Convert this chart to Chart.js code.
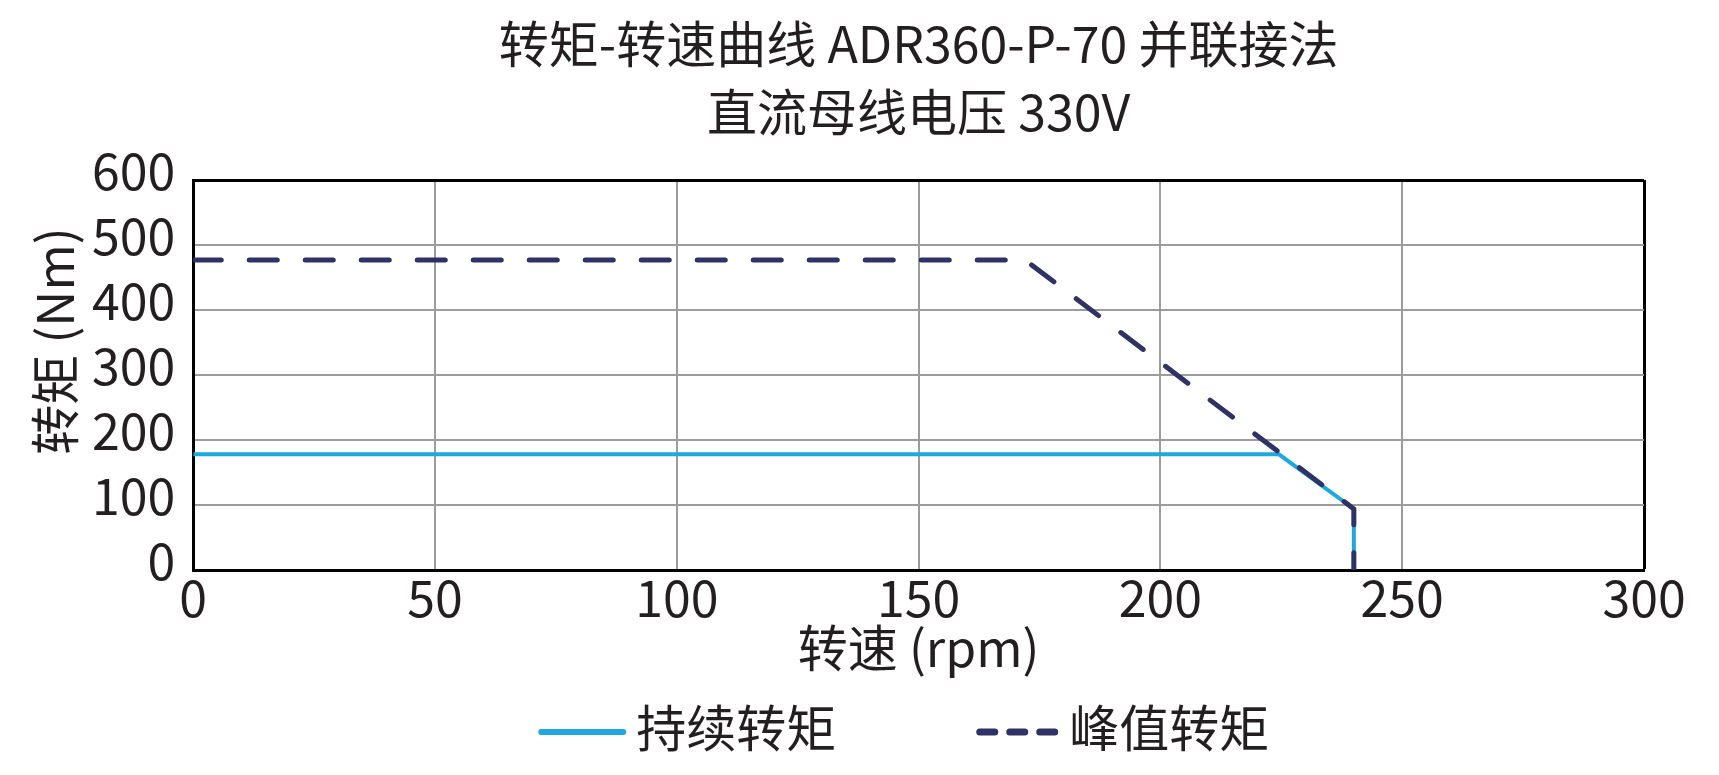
<!DOCTYPE html>
<html>
<head>
<meta charset="utf-8">
<script src="https://cdn.jsdelivr.net/npm/chart.js@4"></script>
<style>
  html, body { margin: 0; background: #fff; }
  #wrap { width: 1719px; height: 775px; }
</style>
</head>
<body>
<div id="wrap"><canvas id="torque"></canvas></div>
<script>
const FONT = "'Noto Sans CJK SC', 'Noto Sans', sans-serif";
Chart.defaults.font.family = FONT;
Chart.defaults.color = '#231f20';

// chart text
const titleLines = ['转矩-转速曲线 ADR360-P-70 并联接法', '直流母线电压 330V'];
const xTitle = '转速 (rpm)';
const yTitle = '转矩 (Nm)';
const seriesNames = ['持续转矩', '峰值转矩'];

// axis ranges / ticks
const xTicks = [0, 50, 100, 150, 200, 250, 300];
const yTicks = [0, 100, 200, 300, 400, 500, 600];

// continuous torque curve
const contSpeed  = [0, 224.5, 240, 240];
const contTorque = [178, 178, 94, 0];

// peak torque curve
const peakSpeed  = [0, 172, 240, 240];
const peakTorque = [477, 477, 94, 0];

const toPts = (xs, ys) => xs.map((x, i) => ({x, y: ys[i]}));

const CONT = '#1fa8de';
const PEAK = '#2e3264';
const GRID = '#9c9c9c';
const FS = 50;

const legendSamples = [
  {width: 88, lineWidth: 6, dash: []},
  {width: 83, lineWidth: 7, dash: [15, 15]}
];

// y title sits a bit above the plot's middle in the reference, so draw it by hand
const yTitlePlugin = {
  id: 'yTitle',
  afterDraw(chart) {
    const {ctx, chartArea} = chart;
    ctx.save();
    ctx.translate(chartArea.left - 138, (chartArea.top + chartArea.bottom) / 2 - 34);
    ctx.rotate(-Math.PI / 2);
    ctx.font = `${FS}px ${FONT}`;
    ctx.fillStyle = '#231f20';
    ctx.textAlign = 'center';
    ctx.textBaseline = 'middle';
    ctx.fillText(yTitle, 0, 0);
    ctx.restore();
  }
};

const legendPlugin = {
  id: 'lineLegend',
  afterDraw(chart) {
    const {ctx, chartArea} = chart;
    const ds = chart.data.datasets;
    let x = chartArea.left + 345;
    const y = chart.height - 43;
    ctx.save();
    ctx.font = `${FS}px ${FONT}`;
    ctx.textBaseline = 'middle';
    ctx.textAlign = 'left';
    ds.forEach((d, i) => {
      const s = legendSamples[i];
      ctx.strokeStyle = d.borderColor;
      ctx.lineWidth = s.lineWidth;
      ctx.lineCap = 'round';
      ctx.setLineDash(s.dash);
      ctx.beginPath();
      ctx.moveTo(x + s.lineWidth / 2, y);
      ctx.lineTo(x + s.width - s.lineWidth / 2, y);
      ctx.stroke();
      ctx.setLineDash([]);
      x += s.width + 10;
      ctx.fillStyle = '#231f20';
      ctx.fillText(d.label, x, y - 4);
      x += ctx.measureText(d.label).width + 140;
    });
    ctx.restore();
  }
};

new Chart(document.getElementById('torque').getContext('2d'), {
  type: 'line',
  data: {
    datasets: [{
      label: seriesNames[0],
      data: toPts(contSpeed, contTorque),
      borderColor: CONT, borderWidth: 4,
      pointRadius: 0, tension: 0, order: 1
    }, {
      label: seriesNames[1],
      data: toPts(peakSpeed, peakTorque),
      borderColor: PEAK, borderWidth: 5,
      borderDash: [28, 28], borderCapStyle: 'round',
      pointRadius: 0, tension: 0, order: 0
    }]
  },
  options: {
    responsive: true, maintainAspectRatio: false,
    devicePixelRatio: 1, animation: false,
    layout: {padding: {left: 74, right: 75, top: 0, bottom: 97}},
    plugins: {
      legend: {display: false},
      tooltip: {enabled: false},
      title: {
        display: true, text: titleLines, fullSize: false,
        color: '#231f20',
        font: {size: FS, weight: 'normal', lineHeight: 1.36},
        padding: {top: 10, bottom: 34}
      }
    },
    scales: {
      x: {
        type: 'linear', min: xTicks[0], max: xTicks[xTicks.length - 1],
        afterBuildTicks: s => { s.ticks = xTicks.map(v => ({value: v})); },
        grid: {
          color: c => c.tick && c.tick.value === 300 ? '#000' : GRID,
          lineWidth: c => c.tick && c.tick.value === 300 ? 3 : 2,
          drawTicks: false
        },
        border: {color: '#000', width: 3},
        ticks: {font: {size: FS}, padding: -2, maxRotation: 0, autoSkip: false},
        title: {display: true, text: xTitle, font: {size: FS}, padding: {top: -8, bottom: 0}}
      },
      y: {
        min: yTicks[0], max: yTicks[yTicks.length - 1],
        afterBuildTicks: s => { s.ticks = yTicks.map(v => ({value: v})); },
        grid: {
          color: c => c.tick && c.tick.value === 600 ? '#000' : GRID,
          lineWidth: c => c.tick && c.tick.value === 600 ? 3 : 2,
          drawTicks: false
        },
        border: {color: '#000', width: 3},
        ticks: {font: {size: FS}, padding: 18, labelOffset: -9, autoSkip: false}
      }
    }
  },
  plugins: [yTitlePlugin, legendPlugin]
});
</script>
</body>
</html>
